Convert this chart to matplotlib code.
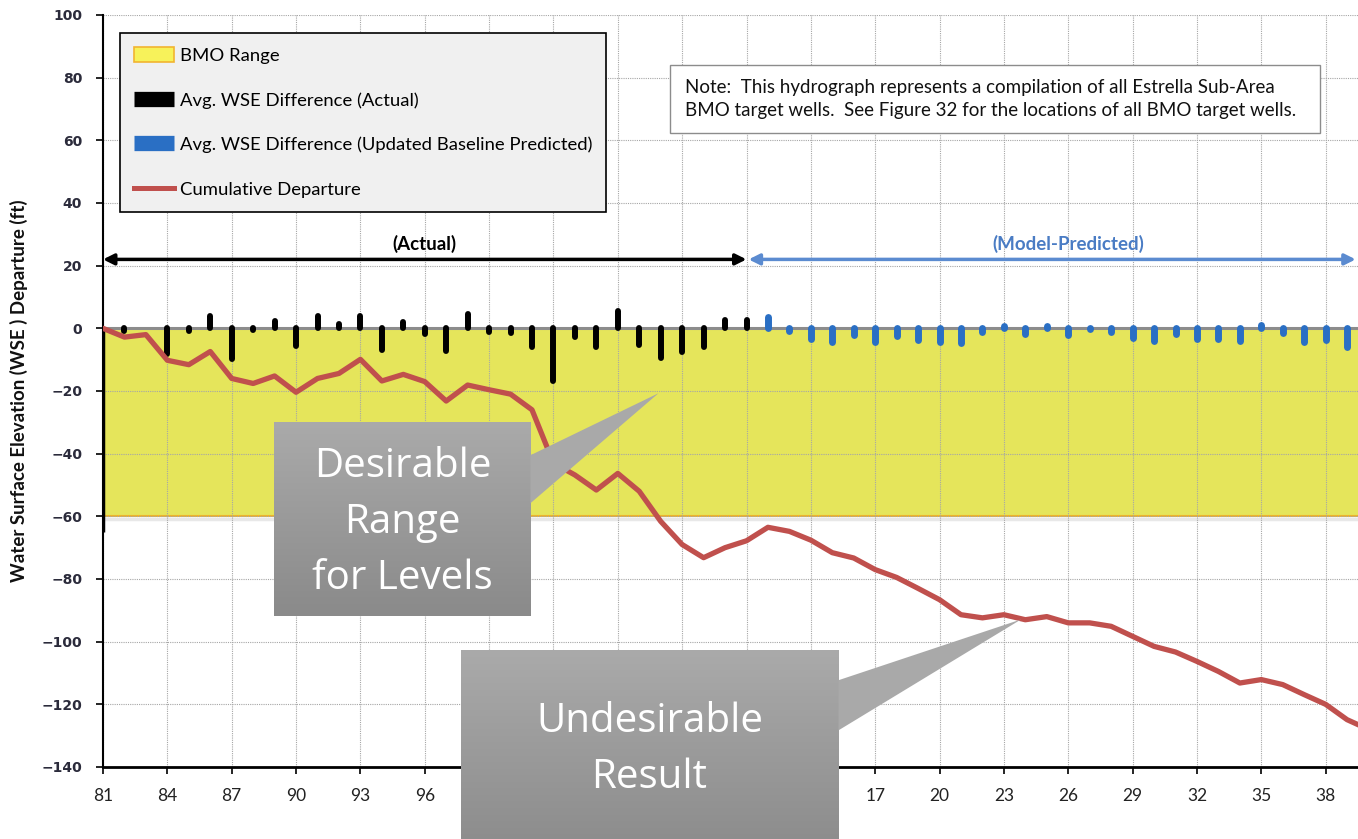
import matplotlib
matplotlib.use('Agg')
import matplotlib.pyplot as plt
import numpy as np
from matplotlib.patches import Patch, Polygon, Rectangle
from matplotlib.lines import Line2D

actual_years = list(range(1982, 2012))
actual_diff = [-0.7, 0.0, -8.2, -0.8, 4.0, -9.8, -0.4, 2.2, -5.6, 4.0,
               1.3, 3.8, -6.9, 1.9, -1.9, -7.1, 4.7, -1.3, -1.6, -6.1,
               -16.9, -2.9, -5.8, 5.6, -5.4, -9.6, -7.4, -5.9, 2.7, 2.7]

pred_years = list(range(2012, 2040))
pred_diff = [3.7, -0.8, -3.5, -4.5, -2.2, -4.3, -2.6, -3.7, -4.3, -4.8,
             -1.1, 0.8, -1.9, 0.6, -2.2, -0.2, -1.1, -3.2, -4.2, -1.9,
             -3.5, -3.5, -4.0, 1.1, -1.5, -4.3, -3.7, -5.8]

cum_years = list(range(1981, 2041))
cum_dep = [0.0, -2.8, -2.0, -10.2, -11.6, -7.4, -16.0, -17.6, -15.2, -20.4,
           -16.0, -14.4, -9.9, -16.8, -14.7, -17.0, -23.2, -18.1, -19.6, -21.0,
           -26.0, -43.0, -46.8, -51.6, -46.3, -52.0, -61.6, -69.0, -73.2, -70.0,
           -67.8, -63.5, -64.8, -67.6, -71.6, -73.3, -77.0, -79.5, -83.0, -86.6,
           -91.4, -92.4, -91.4, -93.0, -92.0, -94.0, -94.0, -95.1, -98.3, -101.5,
           -103.3, -106.3, -109.5, -113.2, -112.1, -113.7, -116.9, -120.0, -124.9, -128.0]

bmo_low, bmo_high = -60, 0
actual_span = (1981, 2011)
pred_span = (2011.1, 2039.4)
tick_years = list(range(1981, 2039, 3))
hidden_ticks = list(range(1999, 2015, 3))   # covered by the callout in the original

W, H = 1358, 839
plt.rcParams['font.family'] = ['Lato', 'DejaVu Sans']

fig = plt.figure(figsize=(W / 100, H / 100), dpi=100)
fig.patch.set_facecolor('white')
# axes run past the right edge of the picture (the original is cropped)
ax = fig.add_axes([103 / W, 1 - 767 / H, 1287 / W, 752 / H])
ax.set_xlim(1981, 2041)
ax.set_ylim(-140, 100)

# BMO range band
ax.axhspan(bmo_low, bmo_high, facecolor='#e5e55b', edgecolor='none', zorder=1)
ax.axhline(bmo_low - 0.9, color='#e8e8e8', lw=2.5, zorder=0.9)
ax.axhline(bmo_low, color='#efb52a', lw=1.5, zorder=1.2)
ax.vlines(1981, -65, 0, color='black', lw=2.5, zorder=3)

# grid
ax.set_axisbelow('line')
ax.grid(True, linestyle=(0, (1, 1)), color='#a6a6a6', lw=0.8)
ax.axhline(0, color='#8c8c8c', lw=2.2, zorder=2.5)

# yearly differences
ax.vlines(actual_years, 0, actual_diff, color='black', lw=4.3,
          capstyle='round', zorder=3)
ax.vlines(pred_years, 0, pred_diff, color='#2a6fc4', lw=5.0,
          capstyle='round', zorder=3)

# cumulative departure
ax.plot(cum_years, cum_dep, color='#c0504d', lw=3.8, solid_joinstyle='round',
        solid_capstyle='round', zorder=4)

# period arrows
ax.annotate('', xy=(actual_span[1], 22), xytext=(actual_span[0], 22),
            arrowprops=dict(arrowstyle='<|-|>', color='black', lw=2.5,
                            mutation_scale=16, shrinkA=0, shrinkB=0), zorder=5)
ax.annotate('', xy=(pred_span[1], 22), xytext=(pred_span[0], 22),
            arrowprops=dict(arrowstyle='<|-|>', color='#5b8bd0', lw=2.5,
                            mutation_scale=16, shrinkA=0, shrinkB=0),
            annotation_clip=False, zorder=5)
ax.text(np.mean(actual_span), 27, '(Actual)', ha='center', va='center',
        fontsize=13.5, fontweight='bold', color='black', zorder=5)
ax.text(2026, 27, '(Model-Predicted)', ha='center', va='center',
        fontsize=13.5, fontweight='bold', color='#4a7cc4', zorder=5)

# axes styling
for s in ['top', 'right']:
    ax.spines[s].set_visible(False)
ax.spines['left'].set_linewidth(1.5)
ax.spines['bottom'].set_linewidth(2)
ax.set_xticks(tick_years)
ax.set_xticklabels(['' if y in hidden_ticks else f'{y % 100:02d}' for y in tick_years])
ax.set_yticks(range(-140, 101, 20))
ax.tick_params(axis='x', direction='out', length=5, width=1.2, pad=10,
               labelsize=12.5, labelcolor='#222222')
ax.tick_params(axis='y', direction='out', length=5, width=1.2, pad=10)
for lab in ax.get_yticklabels():
    lab.set_fontfamily('DejaVu Sans')
    lab.set_fontweight('bold')
    lab.set_fontsize(10)
    lab.set_color('#2b2b3b')
ax.set_ylabel('Water Surface Elevation (WSE ) Departure (ft)', fontsize=13.5,
              fontweight='bold', color='#111111')
ax.yaxis.set_label_coords(-0.058, 0.5)

# legend
handles = [
    Patch(facecolor='#f7f25a', edgecolor='#f2b430', lw=1.2),
    Line2D([], [], color='black', lw=11, solid_capstyle='butt'),
    Line2D([], [], color='#2a6fc4', lw=11, solid_capstyle='butt'),
    Line2D([], [], color='#c0504d', lw=3.6),
]
labels = ['BMO Range', 'Avg. WSE Difference (Actual)',
          'Avg. WSE Difference (Updated Baseline Predicted)', 'Cumulative Departure']
leg = ax.legend(handles, labels, loc='upper left',
                bbox_to_anchor=(120 / W, 1 - 33 / H), bbox_transform=fig.transFigure,
                fontsize=13.3, frameon=True, fancybox=False, framealpha=1,
                facecolor='#f0f0f0', edgecolor='black', borderpad=0.75,
                labelspacing=1.5, handlelength=2.2, handleheight=0.9,
                handletextpad=0.3, borderaxespad=0)
leg.get_frame().set_linewidth(1.2)
leg.set_zorder(8)

# note box
fig.patches.append(Rectangle((670 / W, 1 - 133 / H), 650 / W, 68 / H,
                             transform=fig.transFigure, facecolor='white',
                             edgecolor='#8c8c8c', lw=1.0, zorder=8))
fig.text(685 / W, 1 - 99 / H,
         'Note:  This hydrograph represents a compilation of all Estrella Sub-Area\n'
         'BMO target wells.  See Figure 32 for the locations of all BMO target wells.',
         ha='left', va='center', fontsize=13.5, linespacing=1.4, color='#111111',
         zorder=9)

# callouts (gray gradient boxes with pointers)
grad = np.linspace(0, 1, 256).reshape(-1, 1)
gray_cmap = matplotlib.colors.LinearSegmentedColormap.from_list('g', ['#aaaaaa', '#8a8a8a'])


def callout(x0, x1, y0, y1, tip, base, text, cx, cy):
    im = ax.imshow(grad, extent=(x0, x1, y1, y0), cmap=gray_cmap, aspect='auto',
                   zorder=10, interpolation='bilinear')
    im.set_clip_on(False)
    tri = Polygon([(x1, base[0]), tip, (x1, base[1])], closed=True,
                  facecolor='#a9a9a9', edgecolor='none', zorder=10, clip_on=False)
    ax.add_patch(tri)
    ax.text(cx, cy, text, ha='center', va='center', color='white', fontsize=29,
            fontfamily='Open Sans', linespacing=1.5, zorder=11, clip_on=False)


callout(1988.95, 2000.93, -30.3, -91.9, (2006.9, -20.7), (-40.5, -55.8),
        'Desirable\nRange\nfor Levels', 1994.96, -62.0)
callout(1997.67, 2015.29, -102.8, -170, (2023.8, -92.9), (-112.3, -128.3),
        'Undesirable\nResult', 2006.48, -134.5)

ax.set_xlim(1981, 2041)
ax.set_ylim(-140, 100)

fig.savefig('out.png', dpi=100, facecolor='white')
